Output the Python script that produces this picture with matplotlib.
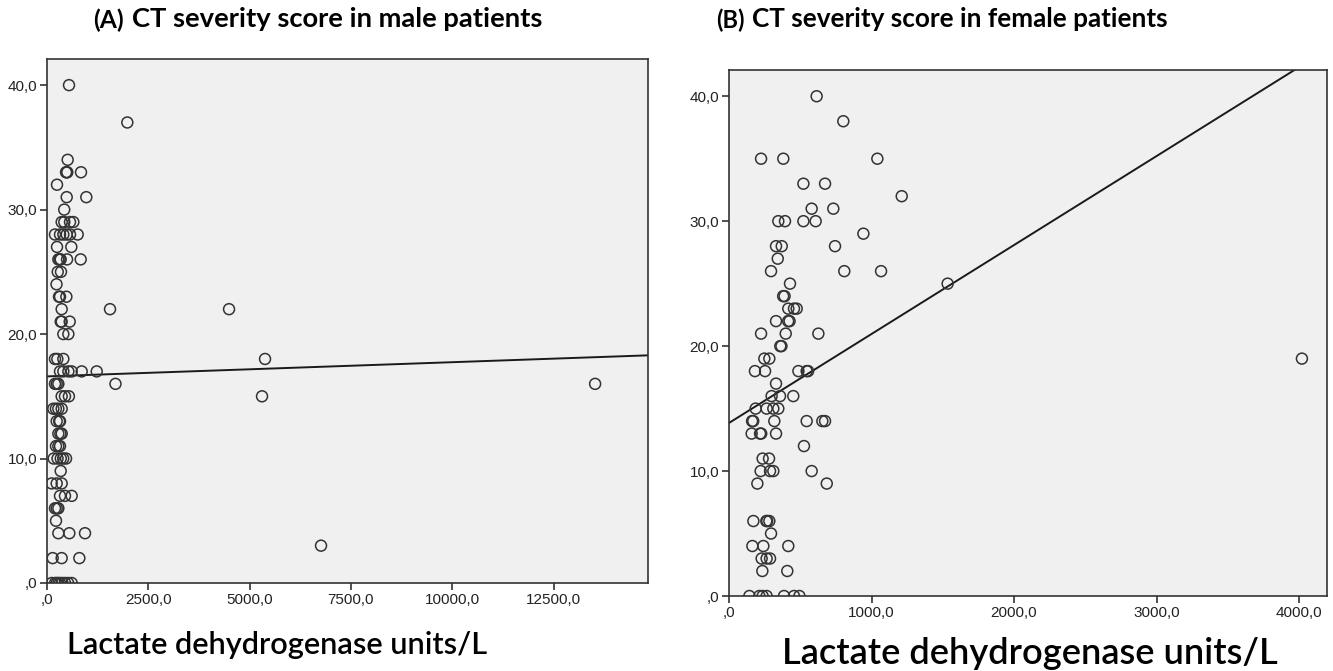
import numpy as np
import matplotlib
matplotlib.use('Agg')
import matplotlib.pyplot as plt
from matplotlib.ticker import FuncFormatter

# male patients: LDH (units/L) and CT severity score
male_ldh = [543, 1982, 510, 470, 486, 500, 839, 247, 486, 970, 425,
            362, 427, 568, 650, 197, 321, 403, 486, 568, 757, 247, 600,
            280, 310, 338, 495, 831, 265, 345, 235, 296, 321, 478,
            362, 1555, 4492, 338, 362, 560, 403, 527,
            197, 255, 403, 5380, 321, 403, 527, 609, 856, 1227,
            197, 240, 280, 1690, 13525, 362, 444, 540, 5306,
            156, 220, 280, 362, 239, 300, 321, 280, 330, 362,
            222, 280, 321, 165, 260, 340, 400, 470, 338,
            115, 239, 362, 321, 444, 609, 197, 240, 280, 222,
            280, 551, 938, 6762, 140, 362, 798,
            115, 200, 239, 280, 321, 380, 444, 520, 609]
male_ct = [40, 37, 34, 33, 33, 33, 33, 32, 31, 31, 30,
           29, 29, 29, 29, 28, 28, 28, 28, 28, 28, 27, 27,
           26, 26, 26, 26, 26, 25, 25, 24, 23, 23, 23,
           22, 22, 22, 21, 21, 21, 20, 20,
           18, 18, 18, 18, 17, 17, 17, 17, 17, 17,
           16, 16, 16, 16, 16, 15, 15, 15, 15,
           14, 14, 14, 14, 13, 13, 13, 12, 12, 12,
           11, 11, 11, 10, 10, 10, 10, 10, 9,
           8, 8, 8, 7, 7, 7, 6, 6, 6, 5,
           4, 4, 4, 3, 2, 2, 2,
           0, 0, 0, 0, 0, 0, 0, 0, 0]

# female patients
female_ldh = [615, 802, 225, 381, 1041, 522, 674, 1212, 580, 732,
              346, 393, 522, 608, 943, 330, 370, 744, 342, 295, 809, 1067,
              428, 1534, 380, 390, 416, 456, 475, 330, 415, 425,
              225, 398, 627, 360, 368, 248, 283, 4020,
              182, 253, 487, 545, 555, 330, 299, 358, 451,
              187, 264, 311, 346, 162, 170, 318, 545, 655, 674,
              159, 218, 226, 330, 526, 236, 281, 222, 288, 311, 580,
              199, 686, 171, 262, 268, 283, 295, 164, 241, 416,
              229, 264, 288, 234, 409, 143, 213, 236, 264, 386, 456, 494]
female_ct = [40, 38, 35, 35, 35, 33, 33, 32, 31, 31,
             30, 30, 30, 30, 29, 28, 28, 28, 27, 26, 26, 26,
             25, 25, 24, 24, 23, 23, 23, 22, 22, 22,
             21, 21, 21, 20, 20, 19, 19, 19,
             18, 18, 18, 18, 18, 17, 16, 16, 16,
             15, 15, 15, 15, 14, 14, 14, 14, 14, 14,
             13, 13, 13, 13, 12, 11, 11, 10, 10, 10, 10,
             9, 9, 6, 6, 6, 6, 5, 4, 4, 4,
             3, 3, 3, 2, 2, 0, 0, 0, 0, 0, 0, 0]

# fit lines (intercept, slope)
male_fit = (16.6, 0.000114)
female_fit = (13.85, 0.00712)

male_xticks = [0, 2500, 5000, 7500, 10000, 12500]
female_xticks = [0, 1000, 2000, 3000, 4000]
yticks = [0, 10, 20, 30, 40]


def spss_fmt(v, pos=None):
    s = '%.1f' % v
    s = s.replace('.', ',')
    if s.startswith('0,'):
        s = s[1:]
    return s


fig = plt.figure(figsize=(13.33, 6.71), dpi=100)
axA = fig.add_axes([47/1333, 88/671, 601/1333, 524/671])
axB = fig.add_axes([729/1333, 75/671, 598/1333, 526/671])

panels = [(axA, male_ldh, male_ct, male_fit, male_xticks, 14830),
          (axB, female_ldh, female_ct, female_fit, female_xticks, 4196)]

for ax, x, y, fit, xt, xmax in panels:
    ax.set_facecolor('#f0f0f0')
    ax.scatter(x, y, s=62, facecolors='none', edgecolors='#333333', linewidths=1.1, zorder=3)
    xx = np.array([0, xmax])
    ax.plot(xx, fit[0] + fit[1]*xx, color='#1a1a1a', lw=1.4, zorder=2)
    ax.set_xlim(0, xmax)
    ax.set_ylim(0, 42.1)
    ax.set_xticks(xt)
    ax.set_yticks(yticks)
    ax.xaxis.set_major_formatter(FuncFormatter(spss_fmt))
    ax.yaxis.set_major_formatter(FuncFormatter(spss_fmt))
    for sp in ax.spines.values():
        sp.set_color('#333333')
        sp.set_linewidth(1.2)
    ax.tick_params(direction='out', length=5, width=1.2, color='#333333',
                   labelsize=11, labelcolor='#222222', pad=2)
    for lab in ax.get_xticklabels() + ax.get_yticklabels():
        lab.set_family('Liberation Sans')

renderer = fig.canvas.get_renderer()


def fit_text(x0, x1, yc, s, weight, size=16):
    # put text from x0 to x1 (pixels), centred at yc (pixels from top)
    t = fig.text(x0/1333, 1 - yc/671, s, fontsize=size, fontweight=weight,
                 family='Lato', va='center')
    w = t.get_window_extent(renderer).width
    t.set_fontsize(size*(x1 - x0)/w)
    return t


tA = fit_text(132, 545, 19, 'CT severity score in male patients', 'bold')
tB = fit_text(752, 1170, 19, 'CT severity score in female patients', 'bold')
fig.text(124/1333, 1 - 20/671, '(A)', fontsize=tA.get_fontsize()*0.9, fontweight='bold',
         family='Lato', va='center', ha='right')
fig.text(745/1333, 1 - 20/671, '(B)', fontsize=tB.get_fontsize()*0.9, fontweight='bold',
         family='Lato', va='center', ha='right')

fit_text(67, 489, 645, 'Lactate dehydrogenase units/L', 'semibold')
fit_text(782, 1280, 654, 'Lactate dehydrogenase units/L', 'semibold')

fig.savefig('out.png', dpi=100)
